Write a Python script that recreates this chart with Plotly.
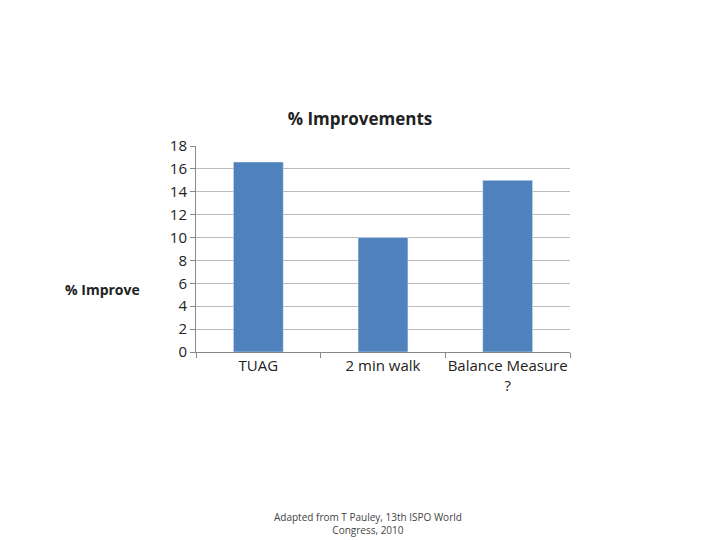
import plotly.graph_objects as go

categories = ["TUAG", "2 min walk", "Balance Measure<br>?"]
values = [16.6, 10, 15]
y_ticks = [0, 2, 4, 6, 8, 10, 12, 14, 16, 18]

fig = go.Figure(go.Bar(x=categories, y=values, marker=dict(color="#4F81BD"), width=0.4))

# plot area in pixels: x 188..562, y 138..344
def px_x(x):
    return (x - 188) / 374

def px_y(y):
    return (344 - y) / 206

font = "Open Sans, Liberation Sans, sans-serif"
fig.update_layout(
    width=720, height=540,
    margin=dict(l=188, r=158, t=138, b=196, autoexpand=False),
    paper_bgcolor="white", plot_bgcolor="white",
    font=dict(family=font, color="#222", size=15),
    showlegend=False,
    title=dict(text="<b>% Improvements</b>", x=352 / 720, xanchor="center",
               y=1 - 111 / 540, yanchor="middle", font=dict(size=17)),
    xaxis=dict(showline=True, linecolor="#888", ticks="outside", ticklen=5,
               tickcolor="#888", tickson="boundaries", tickangle=0,
               automargin=False, tickfont=dict(size=15)),
    yaxis=dict(range=[0, 18], tickvals=y_ticks, showgrid=True, gridcolor="#bbb",
               showline=True, linecolor="#888", ticks="outside", ticklen=5,
               tickcolor="#888", zeroline=False, automargin=False,
               tickfont=dict(size=15)),
    annotations=[
        dict(text="<b>% Improve</b>", x=px_x(55), y=px_y(281), xref="paper",
             yref="paper", showarrow=False, xanchor="left", yanchor="middle",
             font=dict(size=14)),
        dict(text="Adapted from T Pauley, 13th ISPO World<br>Congress, 2010",
             x=px_x(360), y=px_y(515), xref="paper", yref="paper",
             showarrow=False, yanchor="middle", font=dict(size=10, color="#444")),
    ],
)
fig.write_html("out.html")
